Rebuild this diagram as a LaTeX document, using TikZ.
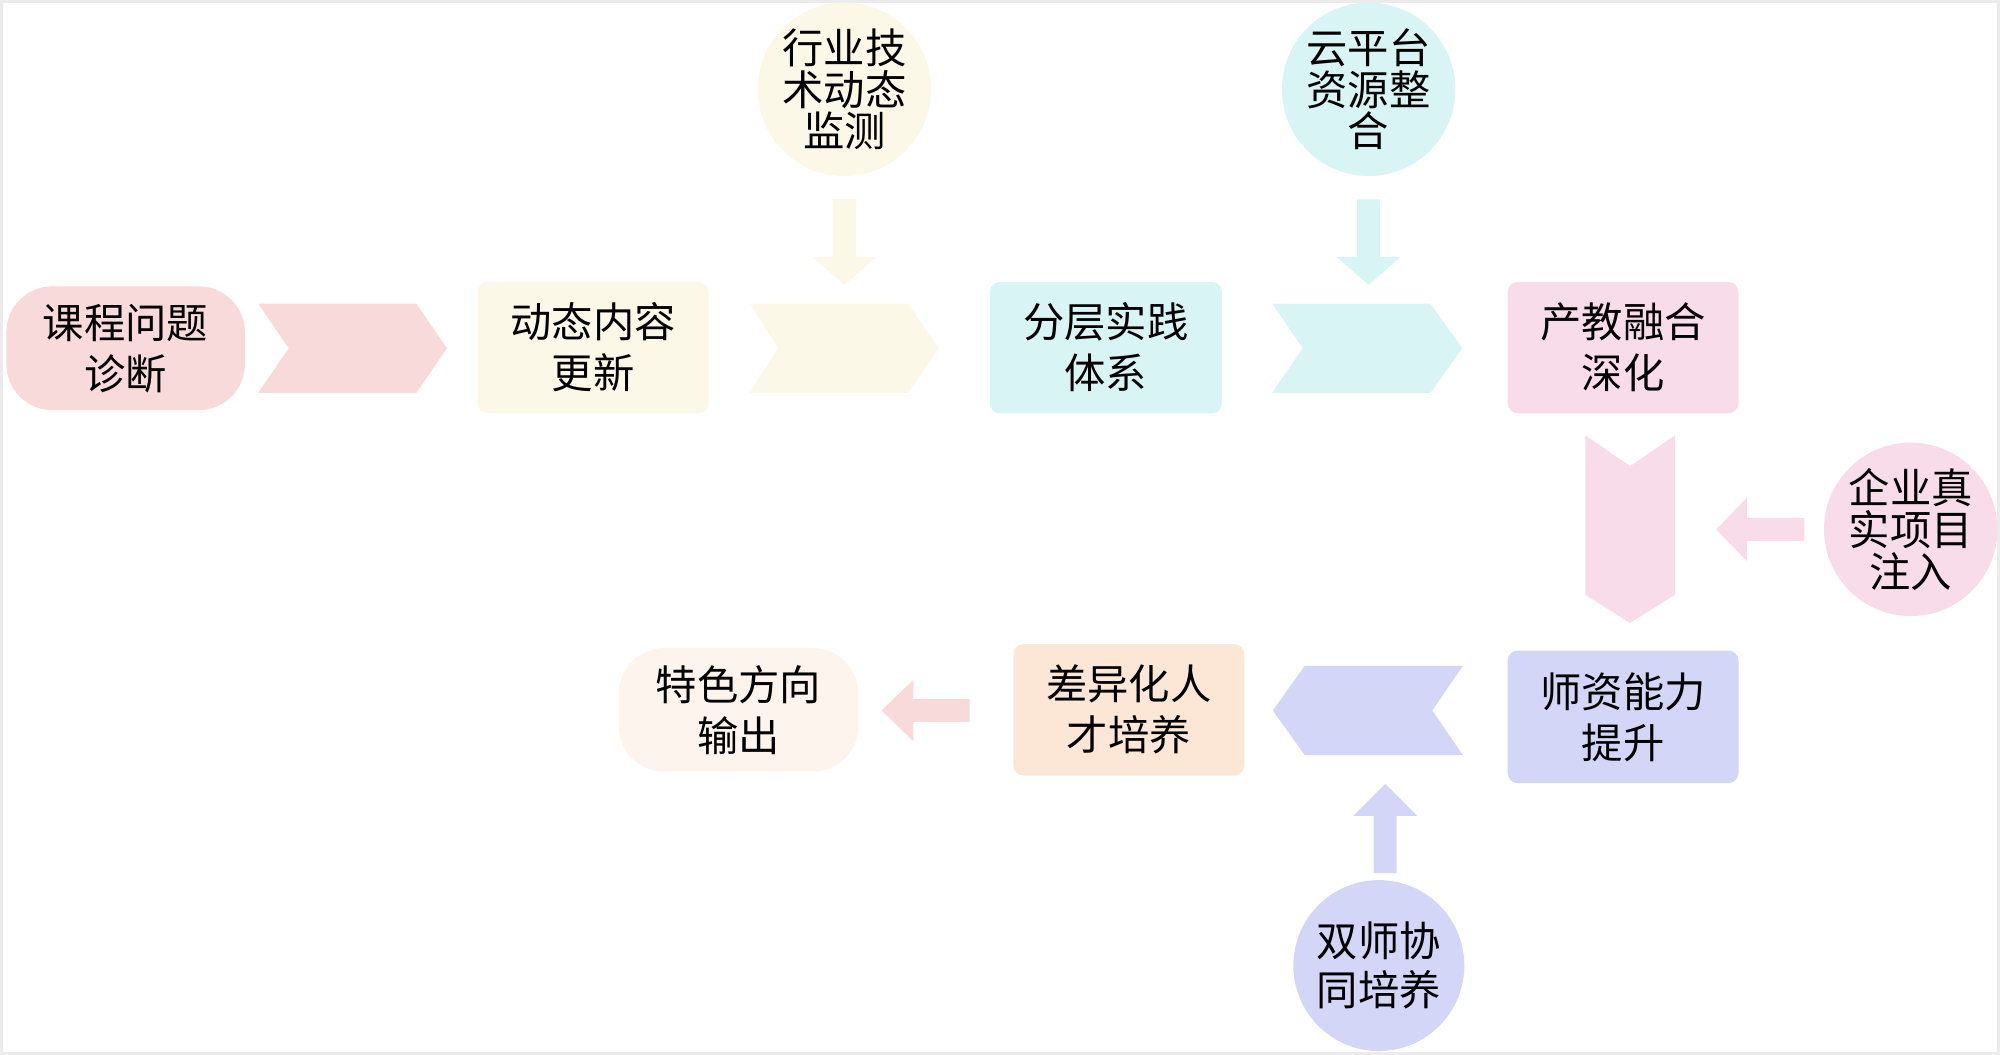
\documentclass[tikz,border=0pt]{standalone}
\usepackage{fontspec}
\setmainfont{Noto Sans CJK SC}
\usetikzlibrary{calc}
\definecolor{cpinkA}{HTML}{F9DADB}
\definecolor{ccream}{HTML}{FCF8E8}
\definecolor{ccyan}{HTML}{D8F4F4}
\definecolor{cpinkD}{HTML}{F9DCEA}
\definecolor{clav}{HTML}{D3D6F7}
\definecolor{cpeach}{HTML}{FCE6D6}
\definecolor{clight}{HTML}{FEF4EE}
\begin{document}
\begin{tikzpicture}[x=0.5pt,y=-0.5pt,
  base/.style={inner sep=0pt, align=center, text=black,
    font=\fontsize{16.2}{20}\selectfont},
  rbox/.style={base, rounded corners=4pt, minimum width=90.5pt, minimum height=51.5pt},
  pill/.style={base, rounded corners=18pt, minimum width=93.5pt, minimum height=48.5pt},
  circ/.style={base, circle, minimum size=67pt,
    font=\fontsize{16.2}{16.4}\selectfont},
  circtwo/.style={circ, font=\fontsize{16.2}{19}\selectfont}]
\useasboundingbox (0,0) rectangle (1568,827);
\fill[white] (0,0) rectangle (1568,827);
\draw[black!8, line width=1pt] (1,1) rectangle (1567,826);

% main nodes
\node[pill, fill=cpinkA] (A) at (98.5,273) {课程问题\\诊断};
\node[rbox, fill=ccream] (B) at (465,272.5) {动态内容\\更新};
\node[rbox, fill=ccyan, minimum width=91pt] (C) at (867,272.5) {分层实践\\体系};
\node[rbox, fill=cpinkD] (D) at (1272.5,272.5) {产教融合\\深化};
\node[rbox, fill=clav, minimum height=52pt] (E) at (1272.5,562) {师资能力\\提升};
\node[rbox, fill=cpeach] (F) at (885,556.5) {差异化人\\才培养};
\node[pill, fill=clight, minimum width=94pt] (G) at (579,556.5) {特色方向\\输出};

% side circles
\node[circ, fill=ccream] (T1) at (662,70) {行业技\\术动态\\监测};
\node[circ, fill=ccyan] (T2) at (1073,70) {云平台\\资源整\\合};
\node[circ, fill=cpinkD] (R) at (1498,415) {企业真\\实项目\\注入};
\node[circtwo, fill=clav] (Bt) at (1081,757) {双师协\\同培养};

% chevrons between main nodes
\fill[cpinkA] ($(A.east)+(10,-35)$) -- ++(124,0) -- ++(24,35) -- ++(-24,35)
  -- ++(-124,0) -- ++(24,-35) -- cycle;
\fill[ccream] ($(B.east)+(32,-34.5)$) -- ++(124,0) -- ++(24,35) -- ++(-24,35)
  -- ++(-124,0) -- ++(22,-35) -- cycle;
\fill[ccyan] ($(C.east)+(39,-34.5)$) -- ++(124,0) -- ++(25,35) -- ++(-25,35)
  -- ++(-124,0) -- ++(24,-35) -- cycle;
\fill[cpinkD] ($(D.south)+(-29.5,17)$) -- ++(35,24) -- ++(35,-24) -- ++(0,125)
  -- ++(-35,22) -- ++(-35,-22) -- cycle;
\fill[clav] ($(F.east)+(22,0.5)$) -- ++(25,-35) -- ++(124,0) -- ++(-24,35)
  -- ++(24,35) -- ++(-124,0) -- cycle;

% block arrows from side circles
\fill[ccream] ($(T1.south)+(-9,18)$) -- ++(18,0) -- ++(0,45) -- ++(16,0)
  -- ++(-25,22) -- ++(-25,-22) -- ++(16,0) -- cycle;
\fill[ccyan] ($(T2.south)+(-9,18)$) -- ++(18,0) -- ++(0,45) -- ++(16,0)
  -- ++(-25,22) -- ++(-25,-22) -- ++(16,0) -- cycle;
\fill[cpinkD] ($(R.west)+(-15,-9)$) -- ++(-45,0) -- ++(0,-16) -- ++(-24,25)
  -- ++(24,25) -- ++(0,-16) -- ++(45,0) -- cycle;
\fill[clav] ($(Bt.north)+(-4,-5)$) -- ++(0,-45) -- ++(-16,0) -- ++(25,-25)
  -- ++(25,25) -- ++(-16,0) -- ++(0,45) -- cycle;
\fill[cpinkA] ($(F.west)+(-34,-8.5)$) -- ++(-44,0) -- ++(0,-15) -- ++(-25,24)
  -- ++(25,24) -- ++(0,-15) -- ++(44,0) -- cycle;
\end{tikzpicture}
\end{document}
